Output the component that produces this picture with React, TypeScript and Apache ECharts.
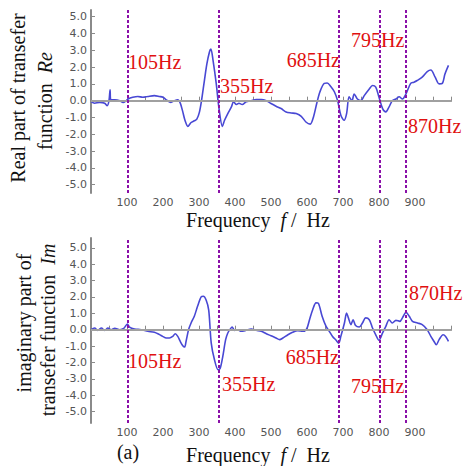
import React, { useEffect, useRef } from "react";
import * as echarts from "echarts";

// Real part (Hz, value)
const reData: [number, number][] = [
  [0, -0.05], [10, -0.15], [24, -0.1], [38, -0.15], [45, -0.3], [50, 0], [53, 0.65], [55, 0.05],
  [66, 0.05], [80, 0], [89, -0.1], [98, 0], [103, 0.1], [116, 0.2], [130, 0.25], [144, 0.2],
  [158, 0.25], [176, 0.3], [190, 0.25], [200, 0.2], [209, 0.05], [222, -0.1], [232, 0], [241, 0.05],
  [248, -0.15], [255, -0.67], [261, -1.17], [269, -1.53], [278, -1.3], [287, -1.2], [294, -1.1],
  [301, -0.7], [307, 0], [315, 1.2], [322, 2.2], [329, 2.9], [333, 3.07], [339, 2.4], [348, 1.0],
  [355, -0.37], [365, -1.53], [371, -1.17], [380, -0.77], [390, -0.37], [396, -0.07], [404, -0.23],
  [411, -0.15], [420, -0.23], [431, -0.07], [445, 0], [459, 0.07], [473, 0.07], [487, 0],
  [500, -0.17], [514, -0.33], [528, -0.47], [542, -0.67], [556, -0.73], [570, -0.77], [584, -0.93],
  [597, -1.27], [609, -1.4], [618, -0.97], [627, -0.17], [636, 0.53], [648, 1.03], [656, 1.05],
  [666, 0.85], [676, 0.53], [685, 0], [694, -0.87], [703, -1.17], [710, -0.77], [717, 0.23],
  [725, 0], [731, 0.4], [740, 0.1], [750, 0], [759, 0.3], [773, 0.7], [782, 0.9], [791, 0.8],
  [800, 0.2], [810, -0.47], [819, -0.67], [828, -0.37], [837, 0], [847, 0.1], [856, 0.23],
  [865, 0.1], [875, 0.4], [888, 1.03], [897, 1.1], [906, 1.2], [920, 1.4], [934, 1.73], [944, 1.83],
  [956, 1.4], [967, 1.0], [976, 1.03], [983, 1.57], [993, 2.1],
];

// Imaginary part (Hz, value)
const imData: [number, number][] = [
  [0, 0], [10, 0.1], [19, -0.04], [29, 0.1], [38, -0.04], [47, 0.1], [56, 0], [66, 0.08],
  [80, 0], [91, 0.08], [101, 0.35], [107, 0.16], [121, 0.04], [139, 0], [158, -0.1], [176, -0.16],
  [190, -0.3], [199, -0.41], [209, -0.51], [218, -0.51], [227, -0.41], [234, -0.25], [241, -0.41],
  [248, -0.72], [255, -0.98], [260, -1.06], [264, -0.72], [271, 0], [278, 0.41], [287, 0.82],
  [296, 1.43], [306, 2.0], [312, 2.04], [320, 1.8], [327, 1.2], [334, -0.82], [343, -1.84],
  [353, -2.45], [359, -2.35], [366, -1.64], [374, -0.61], [380, -0.2], [387, 0.04], [392, 0.16],
  [399, -0.04], [408, 0], [417, -0.1], [431, -0.04], [445, 0.04], [459, -0.04], [473, -0.1],
  [487, -0.25], [500, -0.37], [514, -0.51], [524, -0.61], [533, -0.51], [547, -0.31], [560, -0.16],
  [574, -0.06], [588, -0.1], [599, 0.04], [607, 0.61], [616, 1.23], [625, 1.64], [632, 1.6],
  [642, 0.82], [653, 0.2], [662, -0.1], [671, -0.41], [681, -0.65], [688, -0.82], [694, -0.41],
  [704, 0.41], [710, 1.02], [715, 0.72], [722, 0.31], [728, 0.61], [735, 0.25], [745, 0.16],
  [754, 0.41], [763, 0.72], [773, 0.61], [782, 0.1], [791, -0.31], [800, -0.65], [810, -0.2],
  [819, 0.2], [828, 0.61], [837, 0.41], [847, 0.57], [858, 0.51], [865, 0.72], [875, 1.06],
  [884, 0.82], [893, 0.51], [907, 0.41], [920, 0.31], [934, 0], [944, -0.41], [953, -0.72],
  [959, -0.92], [967, -0.61], [978, -0.31], [985, -0.41], [993, -0.72],
];

const markerFreqs = [102, 355, 688, 802, 874];
const markerLabels = ["105Hz", "355Hz", "685Hz", "795Hz", "870Hz"];
const xTickLabels = [100, 200, 300, 400, 500, 600, 700, 800, 900];
const xMinorTicks = [0, 50, 100, 150, 200, 250, 300, 350, 400, 450, 500, 550, 600, 650, 700, 750, 800, 850, 900, 950, 1000];
const yTickLabels = [-5, -4, -3, -2, -1, 0, 1, 2, 3, 4, 5];

const SERIF = "Liberation Serif";
const SANS = "DejaVu Sans";
const BLUE = "#4848d4";
const PURPLE = "#8a10a8";
const RED = "#e01010";

export default function App() {
  const ref = useRef<HTMLDivElement>(null);
  useEffect(() => {
    if (!ref.current) return;
    const chart = echarts.init(ref.current, null, { renderer: "svg" });

    const xAxisBase = (gridIndex: number) => ({
      type: "value" as const,
      gridIndex,
      min: 0,
      max: 1000,
      axisLine: { show: true, lineStyle: { color: "#8a8a8a", width: 2 } },
      axisTick: {
        show: true,
        inside: true,
        length: 4,
        customValues: xMinorTicks,
        lineStyle: { color: "#8a8a8a", width: 1 },
      },
      axisLabel: {
        customValues: xTickLabels,
        color: "#555",
        fontSize: 11,
        fontFamily: SANS,
        margin: 4,
      },
      splitLine: { show: false },
    });

    const yAxisBase = (gridIndex: number, min: number, max: number) => ({
      type: "value" as const,
      gridIndex,
      min,
      max,
      axisLine: { show: true, lineStyle: { color: "#8a8a8a", width: 2 } },
      axisTick: {
        show: true,
        inside: true,
        length: 4,
        customValues: yTickLabels,
        lineStyle: { color: "#8a8a8a", width: 1 },
      },
      axisLabel: {
        customValues: yTickLabels,
        formatter: (v: number) => v.toFixed(1),
        color: "#555",
        fontSize: 11,
        fontFamily: SANS,
        margin: 4,
      },
      splitLine: { show: false },
    });

    const markLine = {
      silent: true,
      symbol: "none",
      label: { show: false },
      data: [
        { yAxis: 0, lineStyle: { color: "#a0a0a0", width: 2, type: "solid" } },
        ...markerFreqs.map((f) => ({
          xAxis: f,
          lineStyle: { color: PURPLE, width: 2, type: [3, 2] },
        })),
      ],
    };

    const richStyles = {
      n: { fontFamily: SERIF, fontSize: 20, fill: "#111" },
      i: { fontFamily: SERIF, fontSize: 20, fontStyle: "italic", fill: "#111" },
      r: { fontFamily: SERIF, fontSize: 20, fill: RED },
    };

    const redText = (x: number, y: number, text: string, align: string = "left") => ({
      type: "text",
      x,
      y,
      z: 100,
      style: {
        text: `{r|${text}}`,
        fill: RED,
        fontFamily: SERIF,
        fontSize: 20,
        textAlign: align,
        textVerticalAlign: "middle",
        rich: richStyles,
      },
    });

    const titleText = (x: number, y: number, rich: string, rotation = 0) => ({
      type: "text",
      x,
      y,
      rotation,
      style: {
        text: rich,
        fill: "#111",
        fontFamily: SERIF,
        fontSize: 20,
        textAlign: "center",
        textVerticalAlign: "middle",
        rich: richStyles,
      },
    });

    chart.setOption({
      animation: false,
      backgroundColor: "#ffffff",
      grid: [
        { left: 91, top: 10, width: 360, height: 183 },
        { left: 91, top: 238, width: 360, height: 185 },
      ],
      xAxis: [xAxisBase(0), xAxisBase(1)],
      yAxis: [yAxisBase(0, -5.5, 5.4), yAxisBase(1, -5.7, 5.6)],
      series: [
        {
          type: "line",
          xAxisIndex: 0,
          yAxisIndex: 0,
          data: reData,
          showSymbol: false,
          smooth: 0.3,
          lineStyle: { color: BLUE, width: 1.6 },
          markLine,
        },
        {
          type: "line",
          xAxisIndex: 1,
          yAxisIndex: 1,
          data: imData,
          showSymbol: false,
          smooth: 0.3,
          lineStyle: { color: BLUE, width: 1.6 },
          markLine,
        },
      ],
      graphic: [
        redText(128, 62, markerLabels[0]),
        redText(220, 86, markerLabels[1]),
        redText(340, 60, markerLabels[2], "right"),
        redText(351, 40, markerLabels[3]),
        redText(408, 126, markerLabels[4]),
        redText(128, 361, markerLabels[0]),
        redText(222, 384, markerLabels[1]),
        redText(339, 357, markerLabels[2], "right"),
        redText(351, 386, markerLabels[3]),
        redText(409, 293, markerLabels[4]),
        titleText(258, 220, "{n|Frequency  }{i|f}{n| /  Hz}"),
        titleText(258, 455, "{n|Frequency  }{i|f}{n| /  Hz}"),
        titleText(128, 452, "{n|(a)}"),
        titleText(18, 98, "{n|Real part of transefer}", Math.PI / 2),
        titleText(45, 101, "{n|function  }{i|Re}", Math.PI / 2),
        titleText(24, 323, "{n|imaginary part of}", Math.PI / 2),
        titleText(48, 330, "{n|transefer function  }{i|Im}", Math.PI / 2),
      ],
    });
    return () => chart.dispose();
  }, []);
  return (
    <div
      ref={ref}
      style={{ position: "absolute", left: 0, top: 0, width: 468, height: 466 }}
    />
  );
}
